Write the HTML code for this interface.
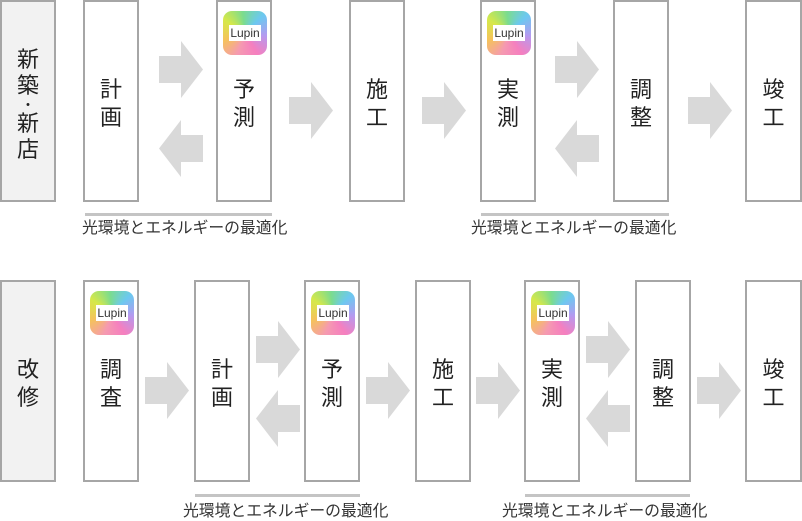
<!DOCTYPE html>
<html><head><meta charset="utf-8"><style>
body{margin:0;width:802px;height:520px;background:#fff;position:relative;overflow:hidden;font-family:"Liberation Sans","Noto Sans CJK JP",sans-serif;color:#222}
.b{position:absolute;box-sizing:border-box;border:2px solid #a6a6a6;background:#fff;width:56px;height:202px}
.g{background:#f2f2f2}
.t{position:absolute;left:0;right:0;text-align:center;font-size:22px;line-height:28px;top:74px}
.ic{position:absolute;left:5px;top:9px;width:44px;height:44px;border-radius:9px;background:conic-gradient(from 200deg,#f59ab0,#f5c35a,#d6e84a,#7bdc8e,#6cc8f0,#b49af0,#f57fbf,#f59ab0)}
.ic span{position:absolute;left:6px;top:14px;width:32px;height:16px;background:#fff;font:12px/16px "Liberation Sans",sans-serif;text-align:center;color:#333}
.a{position:absolute;width:44px;height:57px}
.ln{position:absolute;height:3px;background:#c4c4c4}
.c{position:absolute;font-size:15.8px;line-height:18px;white-space:nowrap;color:#333}
</style></head><body>
<svg width="0" height="0" style="position:absolute"><defs>
<symbol id="r" viewBox="0 0 44 57"><polygon points="0,15 22,15 22,0 44,28.5 22,57 22,42 0,42" fill="#d9d9d9"/></symbol>
<symbol id="l" viewBox="0 0 44 57"><polygon points="44,15 22,15 22,0 0,28.5 22,57 22,42 44,42" fill="#d9d9d9"/></symbol>
</defs></svg>

<!-- row 1 -->
<div class="b g" style="left:0;top:0"><div class="t" style="top:45px;line-height:26px">新<br>築<br><span style="display:block;height:12px;line-height:12px;font-size:14px">・</span>新<br>店</div></div>
<div class="b" style="left:83px;top:0"><div class="t">計<br>画</div></div>
<div class="b" style="left:216px;top:0"><div class="ic"><span>Lupin</span></div><div class="t">予<br>測</div></div>
<div class="b" style="left:349px;top:0"><div class="t">施<br>工</div></div>
<div class="b" style="left:480px;top:0"><div class="ic"><span>Lupin</span></div><div class="t">実<br>測</div></div>
<div class="b" style="left:613px;top:0"><div class="t">調<br>整</div></div>
<div class="b" style="left:745px;top:0;width:57px"><div class="t">竣<br>工</div></div>
<svg class="a" style="left:159px;top:41px"><use href="#r"/></svg>
<svg class="a" style="left:159px;top:120px"><use href="#l"/></svg>
<svg class="a" style="left:289px;top:82px"><use href="#r"/></svg>
<svg class="a" style="left:422px;top:82px"><use href="#r"/></svg>
<svg class="a" style="left:555px;top:41px"><use href="#r"/></svg>
<svg class="a" style="left:555px;top:120px"><use href="#l"/></svg>
<svg class="a" style="left:688px;top:82px"><use href="#r"/></svg>
<div class="ln" style="left:85px;top:213px;width:187px"></div>
<div class="c" style="left:82px;top:220px">光環境とエネルギーの最適化</div>
<div class="ln" style="left:481px;top:213px;width:188px"></div>
<div class="c" style="left:471px;top:220px">光環境とエネルギーの最適化</div>

<!-- row 2 -->
<div class="b g" style="left:0;top:280px"><div class="t" style="top:74px">改<br>修</div></div>
<div class="b" style="left:83px;top:280px"><div class="ic"><span>Lupin</span></div><div class="t">調<br>査</div></div>
<div class="b" style="left:194px;top:280px"><div class="t">計<br>画</div></div>
<div class="b" style="left:304px;top:280px"><div class="ic"><span>Lupin</span></div><div class="t">予<br>測</div></div>
<div class="b" style="left:415px;top:280px"><div class="t">施<br>工</div></div>
<div class="b" style="left:524px;top:280px"><div class="ic"><span>Lupin</span></div><div class="t">実<br>測</div></div>
<div class="b" style="left:635px;top:280px"><div class="t">調<br>整</div></div>
<div class="b" style="left:745px;top:280px;width:57px"><div class="t">竣<br>工</div></div>
<svg class="a" style="left:145px;top:362px"><use href="#r"/></svg>
<svg class="a" style="left:256px;top:321px"><use href="#r"/></svg>
<svg class="a" style="left:256px;top:390px"><use href="#l"/></svg>
<svg class="a" style="left:366px;top:362px"><use href="#r"/></svg>
<svg class="a" style="left:476px;top:362px"><use href="#r"/></svg>
<svg class="a" style="left:586px;top:321px"><use href="#r"/></svg>
<svg class="a" style="left:586px;top:390px"><use href="#l"/></svg>
<svg class="a" style="left:697px;top:362px"><use href="#r"/></svg>
<div class="ln" style="left:195px;top:494px;width:165px"></div>
<div class="c" style="left:183px;top:503px">光環境とエネルギーの最適化</div>
<div class="ln" style="left:525px;top:494px;width:165px"></div>
<div class="c" style="left:502px;top:503px">光環境とエネルギーの最適化</div>
</body></html>
